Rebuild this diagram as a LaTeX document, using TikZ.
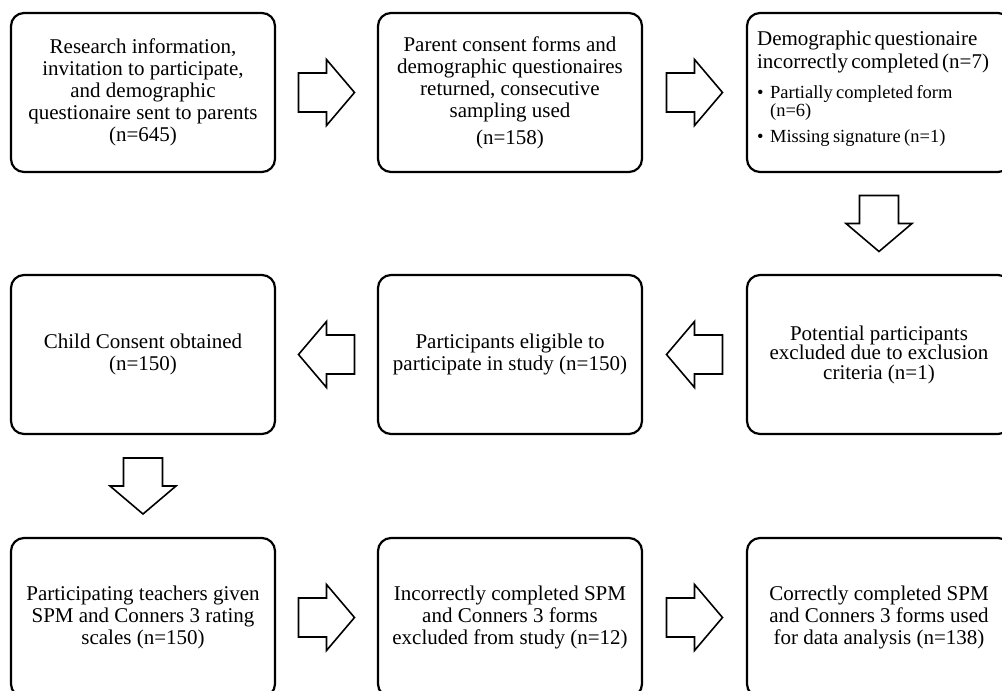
\documentclass[tikz,border=0pt]{standalone}
\usepackage{fontspec}
\setmainfont{Liberation Serif}
\usetikzlibrary{calc}
\begin{document}
\begin{tikzpicture}[x=1pt,y=-1pt,
  box/.style={draw, line width=2.2pt, rounded corners=13pt, minimum width=264pt,
    minimum height=159pt, align=center, inner sep=0pt,
    font=\fontsize{21}{22}\selectfont},
  blockarrow/.pic={\draw[line width=1.6pt, line join=miter]
    (-28,19.5) -- (0,19.5) -- (0,33) -- (28,0) -- (0,-33) -- (0,-19.5) -- (-28,-19.5) -- cycle;}
]
\clip (0,0) rectangle (1002,691);
% row 1
\node[box] (b1) at (143,92.5) {Research information,\\invitation to participate,\\and demographic\\questionaire sent to parents\\(n=645)};
\node[box] (b2) at (510,92.5) {Parent consent forms and\\demographic questionaires\\returned, consecutive\\sampling used\\[5pt](n=158)};
\node[box] (b3) at (879,92.5) {};
\node[anchor=north west, inner sep=0pt, text width=250pt, align=left] (t3) at ($(b3.north west)+(11,19)$)
  {\parindent=0pt\fontsize{21}{23}\selectfont Demographic questionaire\\incorrectly completed (n=7)\par
   \fontsize{18.5}{16}\selectfont\vspace{11pt}%
   \makebox[13pt][l]{•}Partially completed form\\\hspace*{13pt}(n=6)\par\vspace{9pt}%
   \makebox[13pt][l]{•}Missing signature (n=1)\par};
% row 2
\node[box, font=\fontsize{21}{19.5}\selectfont] (b4) at (879,354.5) {Potential participants\\excluded due to exclusion\\criteria (n=1)};
\node[box] (b5) at (510,354.5) {Participants eligible to\\participate in study (n=150)};
\node[box] (b6) at (143,354.5) {Child Consent obtained\\(n=150)};
% row 3
\node[box] (b7) at (143,617.5) {Participating teachers given\\SPM and Conners 3 rating\\scales (n=150)};
\node[box] (b8) at (510,617.5) {Incorrectly completed SPM\\and Conners 3 forms\\excluded from study (n=12)};
\node[box] (b9) at (879,617.5) {Correctly completed SPM\\and Conners 3 forms used\\for data analysis (n=138)};
% block arrows
\pic at ($(b1.east)!0.5!(b2.west)$) {blockarrow};
\pic at ($(b2.east)!0.5!(b3.west)$) {blockarrow};
\pic[rotate=-90] at ($(b3.south)!0.5!(b4.north)$) {blockarrow};
\pic[rotate=180] at ($(b4.west)!0.5!(b5.east)$) {blockarrow};
\pic[rotate=180] at ($(b5.west)!0.5!(b6.east)$) {blockarrow};
\pic[rotate=-90] at ($(b6.south)!0.5!(b7.north)$) {blockarrow};
\pic at ($(b7.east)!0.5!(b8.west)$) {blockarrow};
\pic at ($(b8.east)!0.5!(b9.west)$) {blockarrow};
\end{tikzpicture}
\end{document}
